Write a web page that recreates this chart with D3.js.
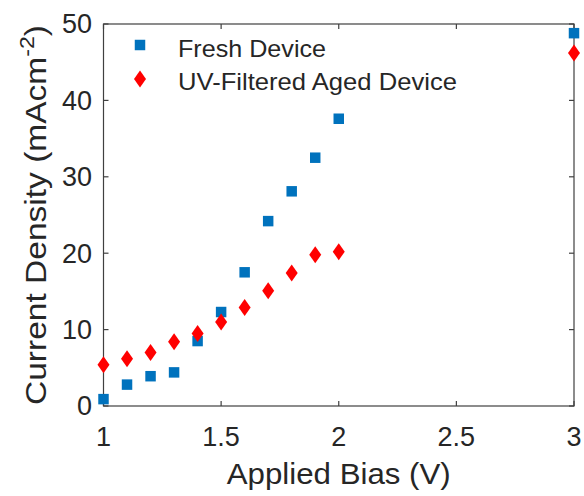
<!DOCTYPE html>
<html>
<head>
<meta charset="utf-8">
<script src="https://cdn.jsdelivr.net/npm/d3@7"></script>
<style>
  html, body { margin: 0; padding: 0; background: #fff; }
  svg { display: block; font-family: "Liberation Sans", Arial, Helvetica, sans-serif; }
</style>
</head>
<body>
<svg id="chart" width="584" height="496"></svg>
<script>
// Applied bias (V) for each measurement
const bias = [1.0, 1.1, 1.2, 1.3, 1.4, 1.5, 1.6, 1.7, 1.8, 1.9, 2.0, 3.0];
// Current density (mA cm^-2)
const freshDevice = [0.9, 2.8, 3.9, 4.4, 8.5, 12.3, 17.5, 24.2, 28.1, 32.5, 37.6, 48.8];
const uvAgedDevice = [5.4, 6.2, 7.0, 8.4, 9.5, 11.0, 12.9, 15.1, 17.4, 19.8, 20.2, 46.2];

const xTicks = [1, 1.5, 2, 2.5, 3];
const yTicks = [0, 10, 20, 30, 40, 50];
const seriesNames = ["Fresh Device", "UV-Filtered Aged Device"];

const svg = d3.select("#chart");
const plotL = 103.5, plotR = 574, plotT = 24, plotB = 406;
const axisColor = "#404040", textColor = "#262626";
const blue = "#0072BD", red = "#FF0000";

const x = d3.scaleLinear().domain([1, 3]).range([plotL, plotR]);
const y = d3.scaleLinear().domain([0, 50]).range([plotB, plotT]);

// Axes box with inward ticks on all four sides
const g = svg.append("g");
g.append("rect")
  .attr("x", plotL).attr("y", plotT)
  .attr("width", plotR - plotL).attr("height", plotB - plotT)
  .attr("fill", "none").attr("stroke", axisColor).attr("stroke-width", 1.2);

const tl = 5;
xTicks.forEach(t => {
  g.append("line").attr("x1", x(t)).attr("x2", x(t)).attr("y1", plotB).attr("y2", plotB - tl)
    .attr("stroke", axisColor).attr("stroke-width", 1.2);
  g.append("line").attr("x1", x(t)).attr("x2", x(t)).attr("y1", plotT).attr("y2", plotT + tl)
    .attr("stroke", axisColor).attr("stroke-width", 1.2);
  g.append("text").attr("x", x(t)).attr("y", 446)
    .attr("text-anchor", "middle").attr("font-size", 27).attr("fill", textColor)
    .text(d3.format("")(t));
});
yTicks.forEach(t => {
  g.append("line").attr("x1", plotL).attr("x2", plotL + tl).attr("y1", y(t)).attr("y2", y(t))
    .attr("stroke", axisColor).attr("stroke-width", 1.2);
  g.append("line").attr("x1", plotR).attr("x2", plotR - tl).attr("y1", y(t)).attr("y2", y(t))
    .attr("stroke", axisColor).attr("stroke-width", 1.2);
  g.append("text").attr("x", 92).attr("y", y(t)).attr("dy", "0.35em")
    .attr("text-anchor", "end").attr("font-size", 27).attr("fill", textColor)
    .text(t);
});

// Axis titles
svg.append("text")
  .attr("x", (plotL + plotR) / 2).attr("y", 484)
  .attr("text-anchor", "middle").attr("font-size", 29).attr("fill", textColor)
  .attr("textLength", 224).attr("lengthAdjust", "spacingAndGlyphs")
  .text("Applied Bias (V)");

const yl = svg.append("text")
  .attr("transform", `translate(46,${(plotT + plotB) / 2}) rotate(-90)`)
  .attr("text-anchor", "middle").attr("font-size", 29).attr("fill", textColor)
  .attr("textLength", 380).attr("lengthAdjust", "spacingAndGlyphs");
yl.append("tspan").text("Current Density (mAcm");
yl.append("tspan").attr("font-size", 20).attr("dy", -12).text("-2");
yl.append("tspan").attr("dy", 12).text(")");

// Marker shapes
const square = d3.symbol().type(d3.symbolSquare).size(110);
const diamondPath = "M0,-8.5L6,0L0,8.5L-6,0Z";

const pts = bias.map((b, i) => ({ b, f: freshDevice[i], u: uvAgedDevice[i] }));

svg.append("g").selectAll("path").data(pts).join("path")
  .attr("d", square)
  .attr("transform", d => `translate(${x(d.b)},${y(d.f)})`)
  .attr("fill", blue);

svg.append("g").selectAll("path").data(pts).join("path")
  .attr("d", diamondPath)
  .attr("transform", d => `translate(${x(d.b)},${y(d.u)})`)
  .attr("fill", red);

// Legend
const lg = svg.append("g");
lg.append("path").attr("d", square).attr("transform", "translate(140,45)").attr("fill", blue);
lg.append("path").attr("d", diamondPath).attr("transform", "translate(140,79)").attr("fill", red);
lg.append("text").attr("x", 178).attr("y", 56.5).attr("font-size", 24.5).attr("fill", textColor)
  .attr("textLength", 148).attr("lengthAdjust", "spacingAndGlyphs").text(seriesNames[0]);
lg.append("text").attr("x", 178).attr("y", 90).attr("font-size", 24.5).attr("fill", textColor)
  .attr("textLength", 279).attr("lengthAdjust", "spacingAndGlyphs").text(seriesNames[1]);
</script>
</body>
</html>
